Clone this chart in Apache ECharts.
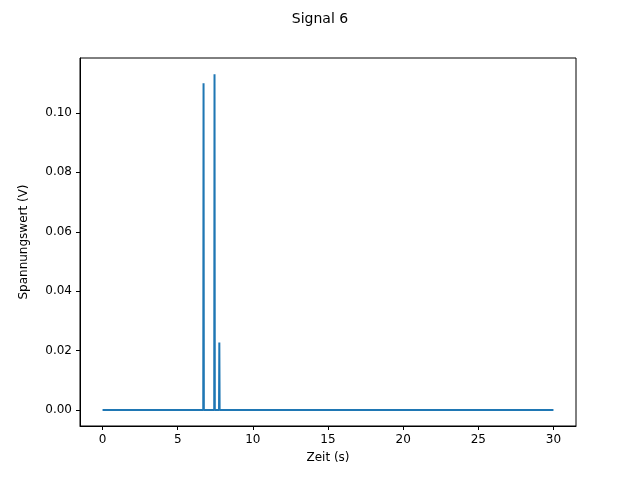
<!DOCTYPE html>
<html>
<head>
<meta charset="utf-8">
<script src="https://cdn.jsdelivr.net/npm/echarts@6/dist/echarts.min.js"></script>
</head>
<body style="margin:0">
<div id="chart" style="width:640px;height:480px;"></div>
<script>
// Zeitpunkte (s) und Spannungswerte (V)
const zeit = [0, 6.70, 6.72, 6.74, 7.43, 7.45, 7.47, 7.75, 7.77, 7.79, 30];
const spannung = [0, 0, 0.110, 0, 0, 0.113, 0, 0, 0.0227, 0, 0];
const xTicks = [0, 5, 10, 15, 20, 25, 30];
const yTicks = [0, 0.02, 0.04, 0.06, 0.08, 0.10];

const chart = echarts.init(document.getElementById('chart'));
const font = 'DejaVu Sans';
chart.setOption({
    animation: false,
    title: {text: 'Signal 6', left: 'center', top: 7,
        textStyle: {fontFamily: font, fontSize: 14, fontWeight: 'normal', color: '#000'}},
    grid: {left: 80, right: 64, top: 58, bottom: 54, show: true,
        borderColor: '#000', borderWidth: 1, backgroundColor: 'transparent'},
    xAxis: {
        type: 'value', min: -1.5, max: 31.5,
        name: 'Zeit (s)', nameLocation: 'middle', nameGap: 26,
        nameTextStyle: {fontFamily: font, fontSize: 12, color: '#000'},
        axisLine: {onZero: false, lineStyle: {color: '#000'}},
        axisTick: {length: 4, lineStyle: {color: '#000'}, customValues: xTicks},
        axisLabel: {fontFamily: font, fontSize: 12, color: '#000',
            customValues: xTicks, formatter: v => String(v)},
        splitLine: {show: false}
    },
    yAxis: {
        type: 'value', min: -0.0054, max: 0.1185,
        name: 'Spannungswert (V)', nameLocation: 'middle', nameGap: 50,
        nameTextStyle: {fontFamily: font, fontSize: 12, color: '#000'},
        axisLine: {show: true, onZero: false, lineStyle: {color: '#000'}},
        axisTick: {length: 4, lineStyle: {color: '#000'}, customValues: yTicks},
        axisLabel: {fontFamily: font, fontSize: 12, color: '#000',
            customValues: yTicks, formatter: v => v.toFixed(2)},
        splitLine: {show: false}
    },
    series: [{
        type: 'line', showSymbol: false,
        data: zeit.map((t, i) => [t, spannung[i]]),
        lineStyle: {color: '#1f77b4', width: 2},
        itemStyle: {color: '#1f77b4'}
    }]
});
</script>
</body>
</html>
